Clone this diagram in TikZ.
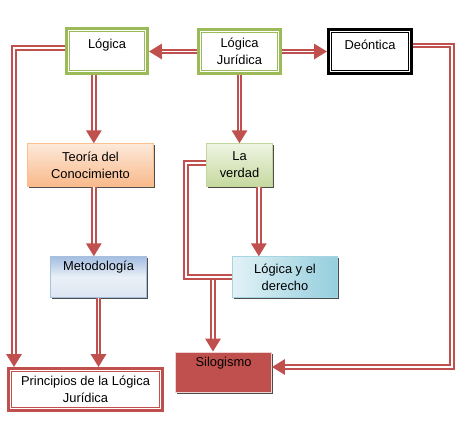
\documentclass[tikz,border=0pt]{standalone}
\usepackage{fontspec}
\setmainfont{Liberation Sans}
\usetikzlibrary{arrows.meta, shadows}
\definecolor{cgreen}{HTML}{9BBB59}
\definecolor{cred}{HTML}{C0504D}
\definecolor{corange}{HTML}{F79646}
\definecolor{corangeL}{HTML}{FDE9DA}
\definecolor{corangeD}{HTML}{F9B98A}
\definecolor{cblue}{HTML}{4F81BD}
\definecolor{cblueL}{HTML}{DCE6F2}
\definecolor{cblueD}{HTML}{A3BDE1}
\definecolor{climeL}{HTML}{EEF4E2}
\definecolor{climeD}{HTML}{C6D99F}
\definecolor{caqua}{HTML}{4BACC6}
\definecolor{caquaL}{HTML}{E2F2F6}
\definecolor{caquaD}{HTML}{95CEDD}

\begin{document}
\begin{tikzpicture}[
  font=\fontsize{11}{14.5}\selectfont,
  framed/.style={
    preaction={draw=#1, line width=6pt},
    draw=#1, double=white, line width=0.8pt, double distance=0.6pt,
    fill=white, align=center, inner sep=2pt, outer sep=3pt
  },
  shadebox/.style={
    align=center, inner sep=2pt, line width=0.4pt,
    drop shadow={shadow xshift=0.9pt, shadow yshift=-1.3pt, fill=black, opacity=0.7}
  },
  orangebox/.style={shadebox, draw=corange!60, top color=corangeL, bottom color=corangeD},
  bluebox/.style={shadebox, draw=cblue!50, top color=cblueD, bottom color=cblueL, middle color=cblueL!60!white},
  limebox/.style={shadebox, draw=cgreen!60, top color=climeL, bottom color=climeD},
  aquabox/.style={shadebox, draw=caqua!50, left color=caquaL, right color=caquaD},
  redbox/.style={shadebox, fill=cred, draw=cred!25, line width=0.8pt},
  toptext/.style={text depth=#1},
  arrowR/.style={
    draw=cred, double=white, line width=1.8pt, double distance=1.2pt,
    -{Triangle[length=11pt, width=13pt]}
  },
  lineR/.style={draw=cred, double=white, line width=1.8pt, double distance=1.2pt}
]
\useasboundingbox (0,0) rectangle (13.95,-12.69);

% ============================================================
% Top row: Lógica -- Lógica Jurídica -- Deóntica
\node[framed=cgreen, toptext=12pt, minimum width=2.31cm, minimum height=1.23cm]
  (logica) at (3.21,-1.53) {Lógica};
\node[framed=cgreen, minimum width=2.34cm, minimum height=1.2cm]
  (juridica) at (7.185,-1.545) {Lógica\\Jurídica};
\node[framed=black, toptext=12pt, minimum width=2.37cm, minimum height=1.2cm]
  (deontica) at (11.1,-1.545) {Deóntica};

% ============================================================
% Middle rows: shaded boxes
\node[orangebox, minimum width=3.78cm, minimum height=1.29cm]
  (teoria) at (2.715,-4.95) {Teoría del\\Conocimiento};
\node[bluebox, toptext=19pt, minimum width=2.88cm, minimum height=1.23cm]
  (metodo) at (2.955,-8.31) {Metodología};
\node[limebox, minimum width=1.98cm, minimum height=1.29cm]
  (verdad) at (7.185,-4.95) {La\\verdad};
\node[aquabox, minimum width=3.15cm, minimum height=1.23cm]
  (derecho) at (8.55,-8.31) {Lógica y el\\derecho};

% ============================================================
% Bottom row
\node[framed=cred, minimum width=4.5cm, minimum height=1.14cm]
  (principios) at (2.565,-11.685) {Principios de la Lógica\\Jurídica};
\node[redbox, toptext=17pt, minimum width=2.88cm, minimum height=1.2cm]
  (silogismo) at (6.705,-11.16) {Silogismo};

% helper points for the bent connectors
\coordinate (rightC) at (13.56,-1.365);
\coordinate (loopL) at (5.58,-8.31);
\coordinate (join) at (6.39,-8.31);

% ============================================================
% Connectors
\draw[arrowR] (juridica.west) -- (juridica.west -| logica.east);
\draw[arrowR] (juridica.east) -- (juridica.east -| deontica.west);
\draw[arrowR] ([yshift=0.09cm]logica.west) -| ([xshift=0.21cm]principios.north west);
\draw[arrowR] ([xshift=0.1cm]teoria.north |- logica.south) -- ([xshift=0.1cm]teoria.north);
\draw[arrowR] ([xshift=0.1cm]teoria.south) -- ([xshift=0.1cm]teoria.south |- metodo.north);
\draw[arrowR] (metodo.south) -- (metodo.south |- principios.north);
\draw[arrowR] (juridica.south) -- (verdad.north);
\draw[arrowR] ([xshift=0.58cm]verdad.south) -- ([xshift=0.58cm]verdad.south |- derecho.north);
\draw[arrowR] (join) -- (join |- silogismo.north);
\draw[lineR] ([yshift=0.06cm]verdad.west) -| (loopL) -- (derecho.west);
\draw[arrowR] ([yshift=0.18cm]deontica.east) -- (rightC) |- ([yshift=0.15cm]silogismo.east);

\end{tikzpicture}
\end{document}
